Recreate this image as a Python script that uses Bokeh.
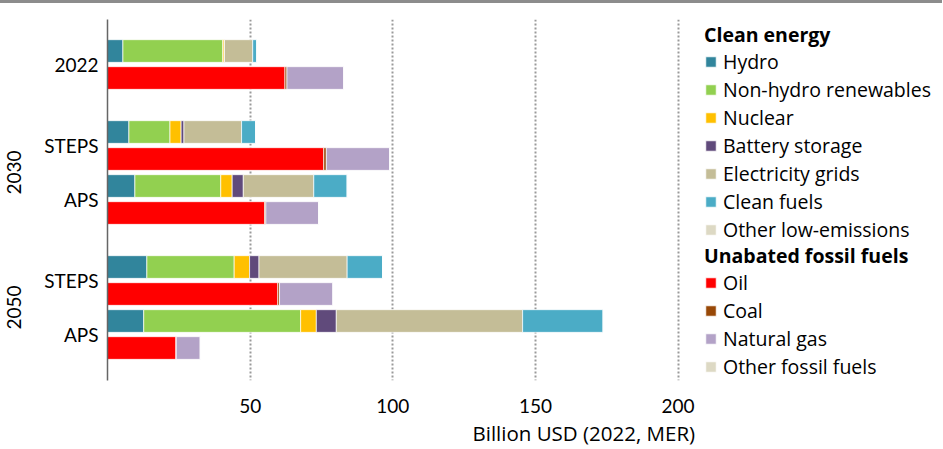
import math
from bokeh.plotting import figure
from bokeh.layouts import column
from bokeh.models import (ColumnDataSource, Range1d, FixedTicker, Legend, LegendItem,
                          LinearAxis, Title, Div)
from bokeh.embed import file_html
from bokeh.resources import INLINE

# ---- data ----
scenarios = ["2022", "STEPS", "APS", "STEPS", "APS"]
groups = ["", "2030", "2030", "2050", "2050"]

clean_series = ["Hydro", "Non-hydro renewables", "Nuclear", "Battery storage",
                "Electricity grids", "Clean fuels", "Other low-emissions"]
hydro = [5.4, 7.5, 9.6, 13.8, 12.7]
non_hydro = [35.0, 14.4, 30.1, 30.6, 55.0]
nuclear = [0.5, 3.9, 4.0, 5.4, 5.5]
battery = [0.1, 1.0, 3.9, 3.3, 7.0]
grids = [9.9, 20.2, 24.7, 30.9, 65.3]
clean_fuels = [1.4, 4.9, 11.7, 12.4, 28.2]
other_low = [0.0, 0.0, 0.0, 0.0, 0.0]

fossil_series = ["Oil", "Coal", "Natural gas", "Other fossil fuels"]
oil = [62.2, 75.8, 55.1, 59.7, 24.0]
coal = [0.7, 0.9, 0.4, 0.6, 0.1]
gas = [19.9, 22.2, 18.5, 18.7, 8.4]
other_fossil = [0.0, 0.0, 0.0, 0.0, 0.0]

x_ticks = [50, 100, 150, 200]
x_title = "Billion USD (2022, MER)"

clean_colors = ["#31859C", "#92D050", "#FFC000", "#604A7B", "#C4BD97", "#4BACC6", "#DDD9C4"]
fossil_colors = ["#FF0000", "#984807", "#B3A2C7", "#DDD9C4"]

FONT = "Lato"
LFONT = "Open Sans"

# ---- slot positions ----
base = []
s = 0
prev = None
for g in groups:
    if prev is not None and g != prev:
        s += 1
    base.append(s)
    s += 2
    prev = g
clean_y = [b for b in base]
fossil_y = [b + 1 for b in base]
tick_y = [b + 0.5 for b in base]
group_names = [g for g in dict.fromkeys(groups) if g]
group_y = [sum(t for t, gg in zip(tick_y, groups) if gg == g) /
           sum(1 for gg in groups if gg == g) for g in group_names]

clean_cols = ["c%d" % i for i in range(len(clean_series))]
fossil_cols = ["f%d" % i for i in range(len(fossil_series))]
clean_src = ColumnDataSource(dict(y=clean_y, **dict(zip(clean_cols,
    [hydro, non_hydro, nuclear, battery, grids, clean_fuels, other_low]))))
fossil_src = ColumnDataSource(dict(y=fossil_y, **dict(zip(fossil_cols,
    [oil, coal, gas, other_fossil]))))

W, H = 942, 445
LEFT, TOP, BOTTOM = 107, 16, 68
PX_PER_UNIT = 2.853
PX_PER_SLOT = 27.0
frame_w = W - LEFT
frame_h = H - TOP - BOTTOM
y_top = -1.056 - 3 / PX_PER_SLOT
p = figure(width=W, height=H, output_backend="svg", toolbar_location=None,
           x_range=Range1d(0, frame_w / PX_PER_UNIT),
           y_range=Range1d(y_top + frame_h / PX_PER_SLOT, y_top),
           min_border_left=LEFT, min_border_right=0, min_border_top=TOP,
           min_border_bottom=BOTTOM)
p.outline_line_color = None

BAR_H = 0.84
clean_r = p.hbar_stack(clean_cols, y="y", height=BAR_H, color=clean_colors,
                       source=clean_src, line_color="white", line_width=0.7)
fossil_r = p.hbar_stack(fossil_cols, y="y", height=BAR_H, color=fossil_colors,
                        source=fossil_src, line_color="white", line_width=0.7)

# grid
p.ygrid.visible = False
p.xgrid.ticker = FixedTicker(ticks=x_ticks)
p.xgrid.grid_line_color = "#9a9a9a"
p.xgrid.grid_line_dash = "2 2"
p.xgrid.grid_line_width = 2

# x axis
p.xaxis.ticker = FixedTicker(ticks=x_ticks)
p.xaxis.axis_line_color = None
p.xaxis.major_tick_line_color = None
p.xaxis.minor_tick_line_color = None
p.xaxis.major_label_text_font = FONT
p.xaxis.major_label_text_font_size = "19px"
p.xaxis.major_label_text_color = "black"
p.xaxis.major_label_standoff = 12

# x axis title (left-aligned, offset as in the reference)
p.add_layout(Title(text=x_title, align="left", offset=365, standoff=2,
                   text_font=LFONT, text_font_size="20.5px", text_font_style="normal",
                   text_color="black"), "below")

# y axis
p.yaxis.ticker = FixedTicker(ticks=tick_y)
p.yaxis.major_label_overrides = {t: lab for t, lab in zip(tick_y, scenarios)}
p.yaxis.axis_line_color = "#666666"
p.yaxis.axis_line_width = 1.5
p.yaxis.major_tick_line_color = None
p.yaxis.minor_tick_line_color = None
p.yaxis.major_label_text_font = FONT
p.yaxis.major_label_text_font_size = "19px"
p.yaxis.major_label_text_color = "black"
p.yaxis.major_label_standoff = 3

# group axis (rotated labels)
gax = LinearAxis(ticker=FixedTicker(ticks=group_y),
                 major_label_overrides={t: g for t, g in zip(group_y, group_names)},
                 major_label_orientation="vertical", axis_line_color=None,
                 major_tick_line_color=None, minor_tick_line_color=None,
                 major_label_text_font=FONT, major_label_text_font_size="19px",
                 major_label_text_color="black", major_label_standoff=14)
p.add_layout(gax, "left")


def make_legend(title, names, rends, loc):
    leg = Legend(title=title, items=[LegendItem(label=n, renderers=[r]) for n, r in zip(names, rends)],
                 location=loc)
    leg.title_text_font = LFONT
    leg.title_text_font_style = "bold"
    leg.title_text_font_size = "19.5px"
    leg.title_text_color = "black"
    leg.title_standoff = 0
    leg.label_text_font = LFONT
    leg.label_text_font_size = "19.5px"
    leg.label_text_color = "black"
    leg.glyph_width = 13
    leg.glyph_height = 13
    leg.label_height = 26
    leg.spacing = 1
    leg.label_standoff = 6
    leg.padding = 0
    leg.margin = 0
    leg.border_line_color = None
    leg.background_fill_alpha = 0
    return leg


p.add_layout(make_legend("Clean energy", clean_series, clean_r, (597, 137)))
p.add_layout(make_legend("Unabated fossil fuels", fossil_series, fossil_r, (597, 0)))

rule = Div(text="", width=W, height=3, margin=0,
           styles={"background-color": "#8c8c8c"})
layout = column(rule, p, spacing=0)

open("out.html", "w").write(file_html(layout, INLINE))
